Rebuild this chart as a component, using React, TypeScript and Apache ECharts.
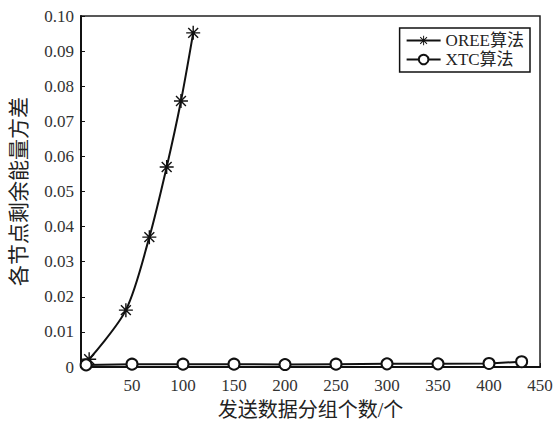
import React, { useEffect, useRef } from "react";
import * as echarts from "echarts";

const oreeX = [8, 44, 67, 84, 98, 110];
const oreeY = [0.0022, 0.0162, 0.037, 0.057, 0.0758, 0.0952];
const xtcX = [5, 50, 100, 150, 200, 250, 300, 350, 400, 432];
const xtcY = [0.0006, 0.0008, 0.0008, 0.0008, 0.0007, 0.0008, 0.0009, 0.0009, 0.001, 0.0015];
const seriesNames = ["OREE算法", "XTC算法"];
const xName = "发送数据分组个数/个";
const yName = "各节点剩余能量方差";

const asterisk =
  "path://M-1,-10L1,-10L1,10L-1,10Z M-10,-1L10,-1L10,1L-10,1Z " +
  "M-6.36,-7.78L7.78,6.36L6.36,7.78L-7.78,-6.36Z " +
  "M7.78,-6.36L-6.36,7.78L-7.78,6.36L6.36,-7.78Z";

const font = "Liberation Serif, Noto Sans CJK SC, serif";

export default function App() {
  const ref = useRef<HTMLDivElement>(null);
  useEffect(() => {
    if (!ref.current) return;
    const chart = echarts.init(ref.current, undefined, { renderer: "svg" });
    chart.setOption({
      animation: false,
      backgroundColor: "#fff",
      textStyle: { fontFamily: font },
      grid: { left: 79, right: 16, top: 16, bottom: 58, show: true, borderColor: "#222", borderWidth: 1.5, backgroundColor: "transparent" },
      legend: {
        orient: "vertical",
        right: 26,
        top: 28,
        data: seriesNames,
        backgroundColor: "#fff",
        borderColor: "#111",
        borderWidth: 1.5,
        borderRadius: 0,
        padding: [4, 6, 4, 6],
        itemGap: 2,
        itemWidth: 34,
        itemHeight: 12,
        textStyle: { fontFamily: font, fontSize: 17, color: "#222" },
      },
      xAxis: {
        type: "value",
        min: 0,
        max: 450,
        interval: 50,
        name: xName,
        nameLocation: "middle",
        nameGap: 33,
        nameTextStyle: { fontFamily: font, fontSize: 20, color: "#222" },
        axisLine: { lineStyle: { color: "#111", width: 2 } },
        axisTick: { inside: true, length: 4, lineStyle: { color: "#111" } },
        axisLabel: {
          fontFamily: font,
          fontSize: 17,
          color: "#333",
          margin: 10,
          formatter: (v: number) => (v === 0 ? "" : String(v)),
        },
        splitLine: { show: false },
      },
      yAxis: {
        type: "value",
        min: 0,
        max: 0.1,
        interval: 0.01,
        name: yName,
        nameLocation: "middle",
        nameRotate: 90,
        nameGap: 52,
        nameTextStyle: { fontFamily: font, fontSize: 21, color: "#222" },
        axisLine: { lineStyle: { color: "#111", width: 2 } },
        axisTick: { inside: true, length: 4, lineStyle: { color: "#111" } },
        axisLabel: {
          fontFamily: font,
          fontSize: 17,
          color: "#333",
          margin: 7,
          formatter: (v: number) => (v === 0 ? "0" : v.toFixed(2)),
        },
        splitLine: { show: false },
      },
      series: [
        {
          name: seriesNames[0],
          type: "line",
          smooth: 0.3,
          data: oreeX.map((x, i) => [x, oreeY[i]]),
          symbol: asterisk,
          symbolSize: 14,
          lineStyle: { color: "#111", width: 2 },
          itemStyle: { color: "#111" },
        },
        {
          name: seriesNames[1],
          type: "line",
          data: xtcX.map((x, i) => [x, xtcY[i]]),
          symbol: "emptyCircle",
          symbolSize: 11,
          lineStyle: { color: "#111", width: 2 },
          itemStyle: { color: "#111", borderWidth: 2, borderColor: "#111" },
        },
      ],
    });
    return () => chart.dispose();
  }, []);
  return <div ref={ref} style={{ width: 556, height: 425, position: "absolute", left: 0, top: 0 }} />;
}
